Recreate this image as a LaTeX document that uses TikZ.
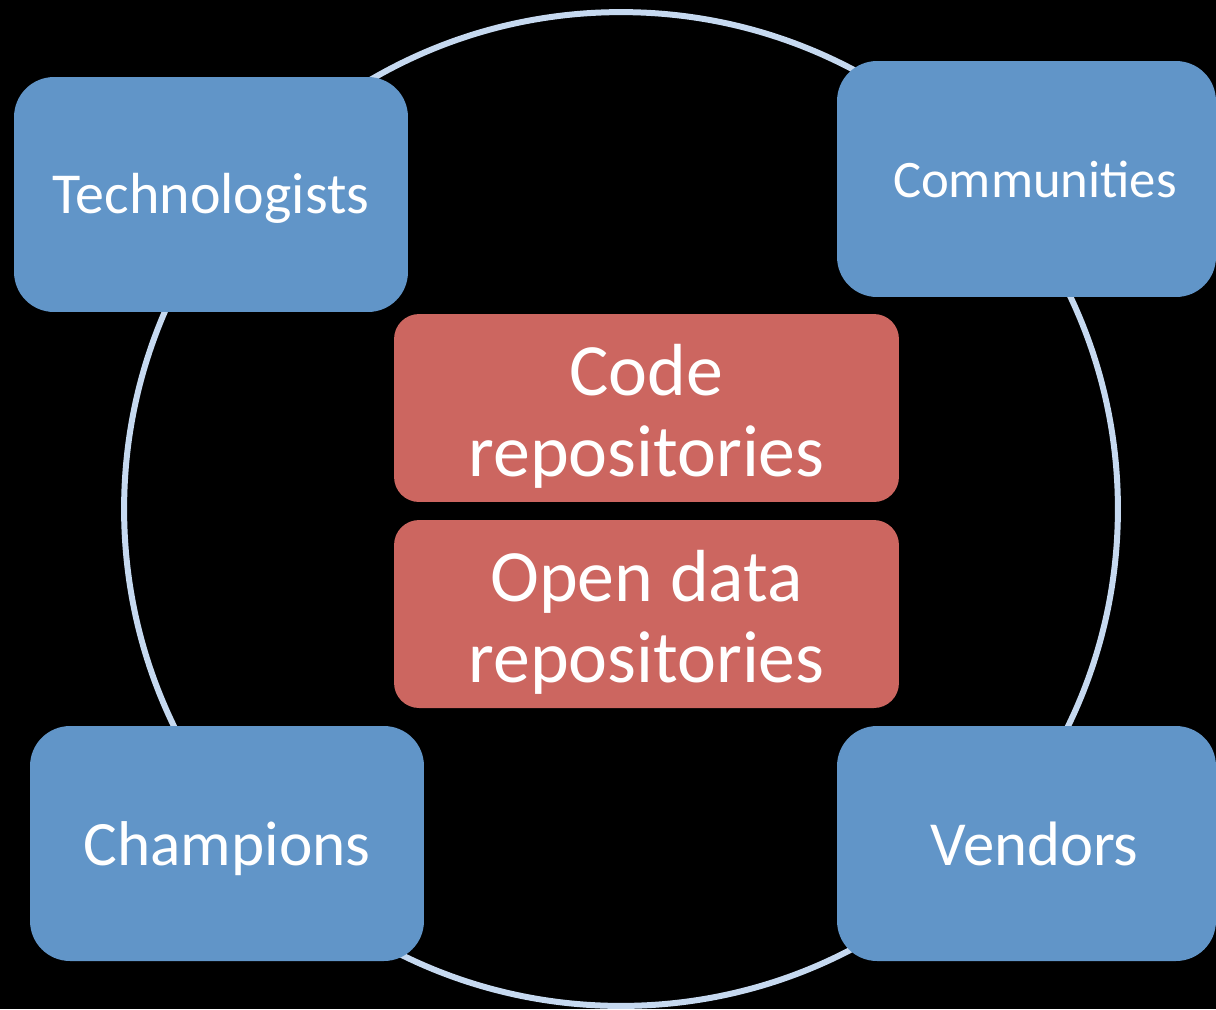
\documentclass[tikz,border=0pt]{standalone}
\usepackage{fontspec}
\setmainfont{Carlito}
\usepackage{xcolor}
\definecolor{boxblue}{HTML}{6195C8}
\definecolor{boxred}{HTML}{CC6660}
\definecolor{ringblue}{HTML}{C6D9F0}
\tikzset{
	actor/.style={fill=boxblue, rounded corners=0.8cm, text=white, minimum width=7.88cm, minimum height=4.7cm, inner sep=0pt, text depth=0pt},
	repo/.style={fill=boxred, rounded corners=0.5cm, text=white, minimum width=10.1cm, minimum height=3.76cm, inner sep=0pt, align=center, text height=2.72cm, text depth=0pt, font=\fontsize{42}{46}\selectfont}
}
\begin{document}
\begin{tikzpicture}[x=0.02cm,y=-0.02cm]
		\fill[black](0,0) rectangle (1216,1009);
		\useasboundingbox (0,0) rectangle (1216,1009);
		\draw[ringblue, line width=0.12cm](621,509) circle (9.94cm);
		\node[actor, text height=0.74cm, font=\fontsize{33}{38}\selectfont](tech) at (211,194.5){Technologists};
		\node[actor, minimum width=7.58cm, minimum height=4.72cm, text height=0.72cm, font=\fontsize{30}{36}\selectfont](comm) at (1026.5,179){\hspace*{0.34cm}Communities};
		\node[actor, text height=0.86cm, font=\fontsize{36}{42}\selectfont](champ) at (227,843.5){Champions};
		\node[actor, minimum width=7.58cm, text height=0.86cm, font=\fontsize{35.7}{42}\selectfont](vend) at (1026.5,843.5){\hspace*{0.32cm}Vendors};
		\node[repo](code) at (646.5,408){Code\\repositories};
		\node[repo](open) at (646.5,614){Open data\\repositories};
		\end{tikzpicture}
\end{document}
